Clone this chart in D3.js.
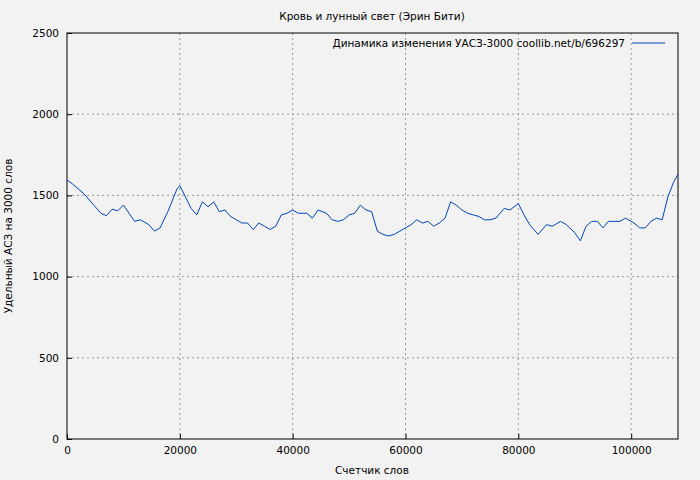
<!DOCTYPE html>
<html>
<head>
<meta charset="UTF-8">
<script src="https://cdn.jsdelivr.net/npm/d3@7"></script>
<style>
html,body{margin:0;background:#f2f2f2;}
text{font-family:"DejaVu Sans",sans-serif;font-size:10.5px;fill:#000;}
</style>
</head>
<body>
<script>
const words = [0,1000,3000,5000,6000,7000,8000,9000,10000,12000,13000,14500,15500,16500,18000,19500,20000,22000,23000,24000,25000,26000,27000,28000,29000,31000,32000,33000,34000,35000,36000,37000,38000,39000,40000,41000,42500,43500,44500,46000,47000,48000,49000,50000,51000,52000,53000,54000,55000,56000,57000,58000,59000,60000,61000,62000,63000,64000,65000,66000,67000,68000,69000,70000,71000,72000,73000,74000,75000,76000,77500,78500,80000,81000,82000,83500,85000,86000,87500,88500,90000,91000,92000,93000,94000,95000,96000,97000,98000,99000,100500,101500,102500,103500,104500,105500,106500,107500,108300];
const values = [1595,1570,1510,1430,1390,1375,1415,1405,1440,1340,1350,1320,1280,1300,1410,1540,1560,1420,1380,1460,1430,1460,1400,1410,1370,1330,1330,1290,1330,1310,1290,1310,1380,1390,1410,1390,1390,1360,1410,1390,1350,1340,1350,1380,1390,1440,1410,1400,1280,1260,1250,1260,1280,1300,1320,1350,1330,1340,1310,1330,1360,1460,1440,1410,1390,1380,1370,1350,1350,1360,1420,1410,1450,1380,1320,1260,1320,1310,1340,1320,1270,1220,1310,1340,1340,1300,1340,1340,1340,1360,1330,1300,1300,1340,1360,1350,1490,1580,1630];
const xTicks = [0,20000,40000,60000,80000,100000];
const yTicks = [0,500,1000,1500,2000,2500];
const title = "Кровь и лунный свет (Эрин Бити)";
const legendText = "Динамика изменения УАСЗ-3000 coollib.net/b/696297";

const W = 700, H = 480, m = {l:67, r:22, t:33, b:41};
const svg = d3.select("body").append("svg").attr("width",W).attr("height",H);
const x = d3.scaleLinear().domain([0,108300]).range([m.l, W-m.r]);
const y = d3.scaleLinear().domain([0,2500]).range([H-m.b, m.t]);

// grid
svg.append("g").selectAll("line").data(xTicks.slice(1)).join("line")
  .attr("x1",d=>x(d)).attr("x2",d=>x(d)).attr("y1",m.t).attr("y2",H-m.b)
  .attr("stroke","#999").attr("stroke-dasharray","2,3");
svg.append("g").selectAll("line").data(yTicks.slice(1,-1)).join("line")
  .attr("x1",m.l).attr("x2",W-m.r).attr("y1",d=>y(d)).attr("y2",d=>y(d))
  .attr("stroke","#999").attr("stroke-dasharray","2,3");

svg.append("rect").attr("x",m.l).attr("y",m.t).attr("width",W-m.l-m.r).attr("height",H-m.t-m.b)
  .attr("fill","none").attr("stroke","#000");

const xa = svg.append("g").attr("transform",`translate(0,${H-m.b})`)
  .call(d3.axisBottom(x).tickValues(xTicks).tickSize(-5).tickPadding(8).tickFormat(d3.format("d")));
const ya = svg.append("g").attr("transform",`translate(${m.l},0)`)
  .call(d3.axisLeft(y).tickValues(yTicks).tickSize(-5).tickPadding(8).tickFormat(d3.format("d")));
[xa,ya].forEach(a=>{a.select(".domain").remove(); a.selectAll("text").attr("font-size",10.5).attr("font-family","DejaVu Sans");});

svg.append("path").datum(words.map((w,i)=>[w,values[i]]))
  .attr("fill","none").attr("stroke","#0044bb").attr("stroke-width",1)
  .attr("d",d3.line().x(d=>x(d[0])).y(d=>y(d[1])));

svg.append("text").attr("x",W/2+22).attr("y",20).attr("text-anchor","middle").text(title);
svg.append("text").attr("x",W/2+22).attr("y",474).attr("text-anchor","middle").text("Счетчик слов");
svg.append("text").attr("transform",`translate(12,${(m.t+H-m.b)/2}) rotate(-90)`).attr("text-anchor","middle").text("Удельный АСЗ на 3000 слов");
svg.append("text").attr("x",625).attr("y",47).attr("text-anchor","end").text(legendText);
svg.append("line").attr("x1",632).attr("x2",665).attr("y1",43).attr("y2",43).attr("stroke","#0044bb");
</script>
</body>
</html>
